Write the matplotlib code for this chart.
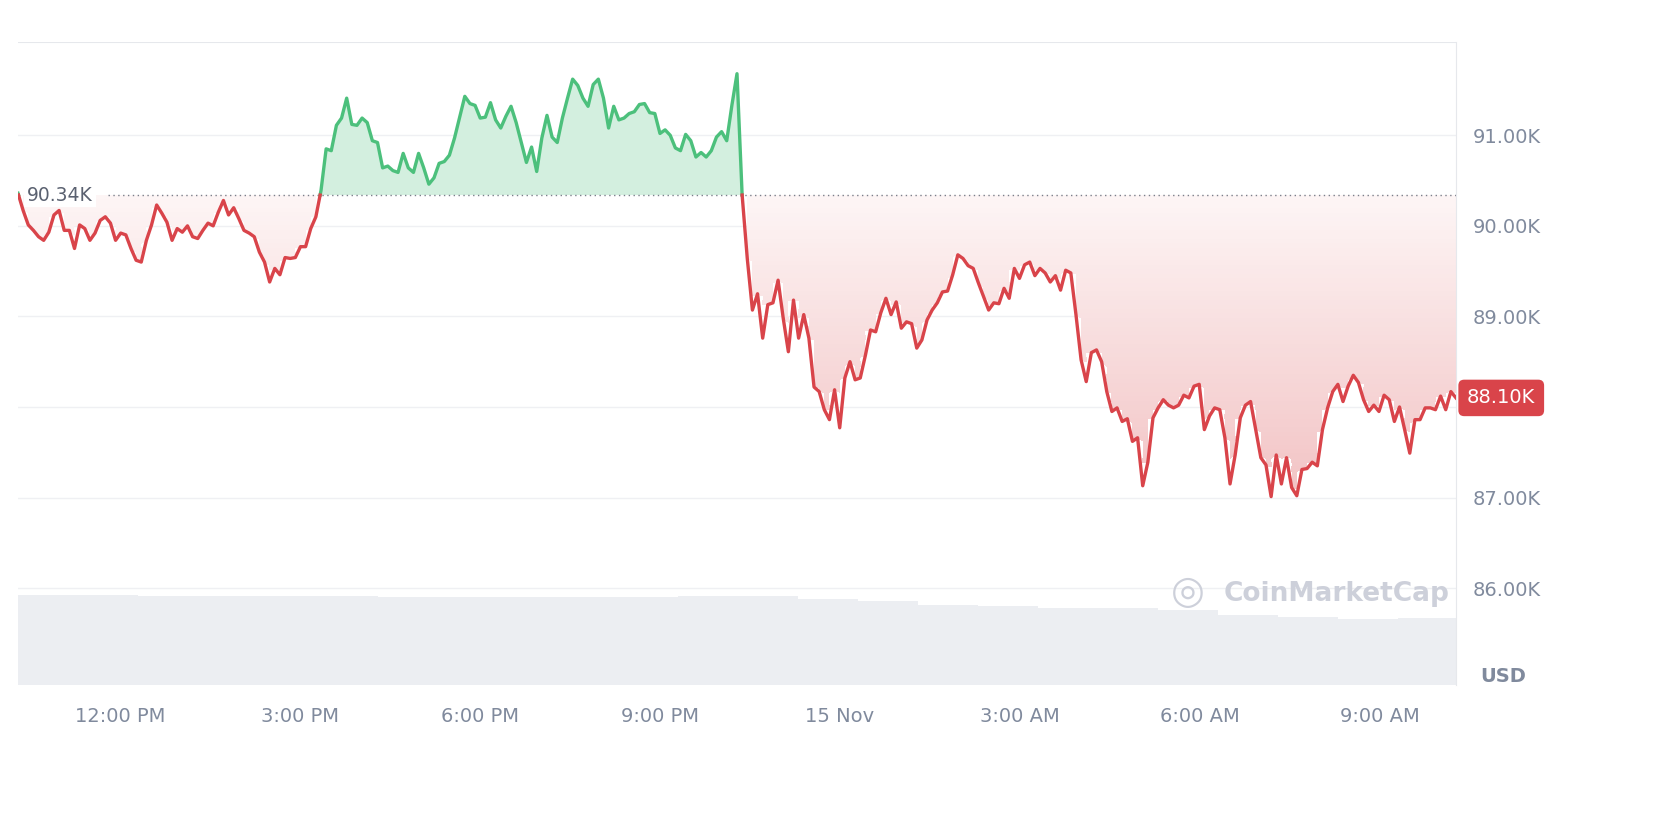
import numpy as np
import matplotlib
matplotlib.use("Agg")
import matplotlib.pyplot as plt
from matplotlib.colors import LinearSegmentedColormap

prices = [90.36, 90.17, 90.01, 89.95, 89.88, 89.84, 89.93, 90.12, 90.17, 89.95, 89.95, 89.75, 90.01, 89.97, 89.84, 89.92, 90.06, 90.10, 90.03, 89.84,
          89.92, 89.90, 89.75, 89.62, 89.60, 89.84, 90.01, 90.23, 90.14, 90.04, 89.84, 89.97, 89.93, 90.00, 89.88, 89.86, 89.95, 90.03, 90.00, 90.15,
          90.28, 90.12, 90.20, 90.08, 89.95, 89.92, 89.88, 89.71, 89.60, 89.38, 89.53, 89.46, 89.65, 89.64, 89.65, 89.77, 89.77, 89.97, 90.10, 90.39,
          90.85, 90.83, 91.11, 91.19, 91.41, 91.12, 91.11, 91.19, 91.14, 90.94, 90.92, 90.64, 90.66, 90.61, 90.59, 90.80, 90.64, 90.59, 90.80, 90.64,
          90.46, 90.53, 90.69, 90.71, 90.78, 90.97, 91.20, 91.43, 91.35, 91.33, 91.19, 91.20, 91.36, 91.17, 91.08, 91.21, 91.32, 91.14, 90.92, 90.70,
          90.87, 90.60, 90.97, 91.22, 90.98, 90.92, 91.19, 91.41, 91.62, 91.55, 91.41, 91.32, 91.56, 91.62, 91.41, 91.08, 91.32, 91.17, 91.19, 91.24,
          91.26, 91.34, 91.35, 91.25, 91.24, 91.02, 91.06, 91.00, 90.86, 90.83, 91.01, 90.94, 90.76, 90.81, 90.76, 90.83, 90.98, 91.04, 90.94, 91.33,
          91.68, 90.34, 89.64, 89.07, 89.25, 88.76, 89.13, 89.15, 89.40, 88.98, 88.61, 89.18, 88.76, 89.02, 88.76, 88.22, 88.17, 87.97, 87.86, 88.19,
          87.77, 88.32, 88.50, 88.30, 88.32, 88.57, 88.85, 88.83, 89.04, 89.20, 89.02, 89.16, 88.87, 88.94, 88.92, 88.65, 88.74, 88.96, 89.07, 89.15,
          89.27, 89.28, 89.46, 89.68, 89.64, 89.56, 89.53, 89.37, 89.22, 89.07, 89.15, 89.14, 89.31, 89.20, 89.53, 89.42, 89.57, 89.60, 89.45, 89.53,
          89.48, 89.38, 89.45, 89.29, 89.51, 89.48, 89.02, 88.52, 88.28, 88.60, 88.63, 88.50, 88.17, 87.95, 87.99, 87.84, 87.87, 87.62, 87.66, 87.13,
          87.39, 87.88, 87.99, 88.08, 88.02, 87.99, 88.02, 88.13, 88.10, 88.23, 88.25, 87.75, 87.90, 87.99, 87.97, 87.66, 87.15, 87.47, 87.88, 88.02,
          88.06, 87.75, 87.44, 87.36, 87.01, 87.47, 87.15, 87.44, 87.11, 87.02, 87.31, 87.32, 87.39, 87.35, 87.75, 87.99, 88.17, 88.25, 88.06, 88.23,
          88.35, 88.27, 88.08, 87.95, 88.02, 87.95, 88.13, 88.08, 87.84, 88.00, 87.75, 87.49, 87.86, 87.86, 87.99, 87.99, 87.97, 88.12, 87.97, 88.17,
          88.10]
start_hour, end_hour = 10.3, 34.27
baseline = 90.34
last_price = 88.10
volume_hours = list(np.arange(10.3, 34.3, 1.0))
volume = [90, 90, 89, 89, 89, 89, 88, 88, 88, 88, 88, 89, 89, 86, 84, 80, 79, 77, 77, 75, 70, 68, 66, 67]
tick_hours = [12, 15, 18, 21, 24, 27, 30, 33]
tick_labels = ["12:00 PM", "3:00 PM", "6:00 PM", "9:00 PM", "15 Nov", "3:00 AM", "6:00 AM", "9:00 AM"]
yticks = [86, 87, 88, 89, 90, 91]

GREEN = "#4cc07c"
RED = "#d9444a"
GRAY = "#808a9d"

t = np.linspace(start_hour, end_hour, len(prices))
p = np.array(prices)
tt, pp = [t[0]], [p[0]]
for i in range(1, len(p)):
    a, b = p[i-1] - baseline, p[i] - baseline
    if a * b < 0:
        f = a / (a - b)
        tt.append(t[i-1] + f * (t[i] - t[i-1])); pp.append(baseline)
    tt.append(t[i]); pp.append(p[i])
tt, pp = np.array(tt), np.array(pp)

fig = plt.figure(figsize=(16.8, 8.17), dpi=100)
ax = fig.add_axes([18/1680, 132/817, 1438/1680, 643/817])
ymin, ymax = 84.93, 92.03
ax.set_xlim(start_hour, end_hour)
ax.set_ylim(ymin, ymax)

vax = ax.twinx()
vax.set_ylim(0, 643)
vax.bar(volume_hours, volume, width=1.0, align="edge", color="#eceef2", edgecolor="none", zorder=0)
vax.set_axis_off()
ax.set_zorder(vax.get_zorder() + 1)
ax.patch.set_visible(False)

for y in yticks:
    ax.axhline(y, color="#eff0f3", lw=1, zorder=0)
ax.axhline(ymax, color="#e6e8ec", lw=1.5)

ax.fill_between(tt, pp, baseline, where=pp >= baseline, color="#d3efdf", lw=0, zorder=1)
# gradient red fill built from horizontal bands
low = np.minimum(pp, baseline)
cmap = LinearSegmentedColormap.from_list("r", ["#fdf5f5", "#f2c3c4"])
levels = np.linspace(baseline, 87.0, 70)
for k in range(len(levels) - 1):
    top, bot = levels[k], levels[k + 1]
    y1 = np.clip(low, bot, top)
    ax.fill_between(tt, y1, top, where=low < top, color=cmap(k / (len(levels) - 2)), lw=0, zorder=1,
                    antialiased=False)

above = np.where(pp >= baseline, pp, np.nan)
below = np.where(pp <= baseline, pp, np.nan)
ax.plot(tt, above, color=GREEN, lw=2.4, zorder=3, solid_joinstyle="round")
ax.plot(tt, below, color=RED, lw=2.4, zorder=3, solid_joinstyle="round")

ax.axhline(baseline, color="#7a7f8a", lw=1, ls=(0, (1, 2.5)), zorder=2, xmin=90/1438)
ax.text(10.45, baseline, "90.34K", color="#5a6170", fontsize=13.5, va="center", ha="left",
        bbox=dict(boxstyle="square,pad=0.15", fc="white", ec="none"), zorder=4)

ax.set_xticks(tick_hours)
ax.set_xticklabels(tick_labels)
ax.tick_params(axis="x", length=0, pad=16, labelsize=14, labelcolor=GRAY)
ax.yaxis.tick_right()
ax.set_yticks(yticks)
ax.set_yticklabels([("" if v == 88 else f"{v:.2f}K") for v in yticks])
ax.tick_params(axis="y", length=0, pad=12, labelsize=14, labelcolor=GRAY)
for s in ["left", "bottom", "top"]:
    ax.spines[s].set_visible(False)
ax.spines["right"].set_color("#e6e8ec")

fig.text(1503/1680, 1 - 677/817, "USD", color=GRAY, fontsize=14, fontweight="bold", ha="center", va="center")
ax.annotate(f"{last_price:.2f}K", xy=(1.0, last_price), xycoords=("axes fraction", "data"),
            xytext=(8, 0), textcoords="offset points", color="white", fontsize=14, va="center", ha="left",
            bbox=dict(boxstyle="round,pad=0.45,rounding_size=0.3", fc=RED, ec="none"), annotation_clip=False)
fig.text(1188/1680, 1 - 592/817, "\u25CE", color="#cdd0da", fontsize=28, ha="center", va="center")
fig.text(1224/1680, 1 - 594/817, "CoinMarketCap", color="#cdd0da", fontsize=19, fontweight="semibold", ha="left", va="center")

fig.savefig("out.png", dpi=100, facecolor="white")
